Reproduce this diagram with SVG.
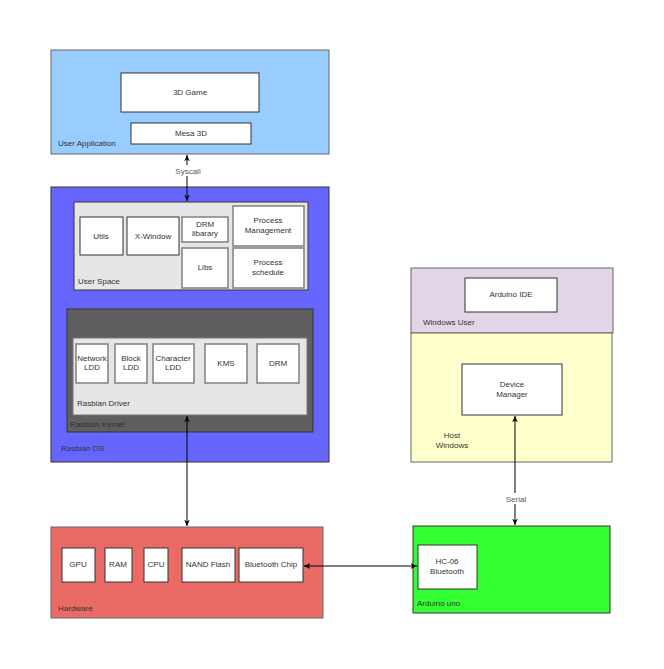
<svg xmlns="http://www.w3.org/2000/svg" width="664" height="669" viewBox="0 0 664 669">
<defs>
<marker id="ah" viewBox="0 0 10 10" refX="9" refY="5" markerWidth="7" markerHeight="7" orient="auto-start-reverse" markerUnits="userSpaceOnUse">
<path d="M0,1 L9,5 L0,9 L2.5,5 Z" fill="#000"/>
</marker>
<style>
text{font-family:"Liberation Sans",Arial,sans-serif;font-size:8px;fill:#333}
.c{text-anchor:middle}
.box{fill:#fff;stroke:#333;stroke-width:1}
.gbox{fill:#fff;stroke:#888;stroke-width:1.6}
.edge{stroke:#000;stroke-width:1;fill:none;marker-start:url(#ah);marker-end:url(#ah)}
.lbl{fill:#555}
</style>
</defs>
<rect width="664" height="669" fill="#fff"/>

<g id="user-application">
<rect x="51" y="50" width="278" height="104" fill="#99ccff" stroke="#666"/>
<text x="58" y="146">User Application</text>
</g>
<g id="game-3d"><rect class="box" x="121" y="73" width="138" height="39"/><text class="c" x="190" y="95">3D Game</text></g>
<g id="mesa-3d"><rect class="box" x="131" y="123" width="120" height="21"/><text class="c" x="191" y="136">Mesa 3D</text></g>

<g id="rasbian-os">
<rect x="51" y="187" width="278" height="275" fill="#6666ff" stroke="#333"/>
<text x="61" y="451">Rasbian OS</text>
</g>
<g id="user-space">
<rect x="74" y="202" width="234" height="88" fill="#e6e6e6" stroke="#333"/>
<text x="78" y="284">User Space</text>
</g>
<g id="utils"><rect class="box" x="80" y="217" width="43" height="38"/><text class="c" x="101" y="239">Utils</text></g>
<g id="x-window"><rect class="box" x="127" y="217" width="52" height="38"/><text class="c" x="153" y="239">X-Window</text></g>
<g id="drm-library"><rect class="gbox" x="182" y="217" width="46" height="25"/><text class="c" x="205" y="227">DRM</text><text class="c" x="205" y="236">libarary</text></g>
<g id="libs"><rect class="gbox" x="182" y="248" width="46" height="40"/><text class="c" x="205" y="270">Libs</text></g>
<g id="process-management"><rect class="gbox" x="233" y="206" width="71" height="40"/><text class="c" x="268" y="223">Process</text><text class="c" x="268" y="233">Management</text></g>
<g id="process-schedule"><rect class="gbox" x="233" y="248" width="71" height="40"/><text class="c" x="268" y="265">Process</text><text class="c" x="268" y="275">schedule</text></g>

<g id="rasbian-kernel">
<rect x="67" y="309" width="246" height="123" fill="#5f5f5f" stroke="#333"/>
<text x="70" y="427">Rasbian Kernel</text>
</g>
<g id="rasbian-driver">
<rect x="73" y="338" width="234" height="77" fill="#e6e6e6" stroke="#777"/>
<text x="77" y="406">Rasbian Driver</text>
</g>
<g id="network-ldd"><rect class="gbox" x="76" y="344" width="32" height="39"/><text class="c" x="92" y="361">Network</text><text class="c" x="92" y="370">LDD</text></g>
<g id="block-ldd"><rect class="gbox" x="115" y="344" width="32" height="39"/><text class="c" x="131" y="361">Block</text><text class="c" x="131" y="370">LDD</text></g>
<g id="character-ldd"><rect class="gbox" x="153" y="344" width="41" height="39"/><text class="c" x="173" y="361">Character</text><text class="c" x="173" y="370">LDD</text></g>
<g id="kms"><rect class="gbox" x="205" y="344" width="42" height="39"/><text class="c" x="226" y="366">KMS</text></g>
<g id="drm"><rect class="gbox" x="257" y="344" width="42" height="39"/><text class="c" x="278" y="366">DRM</text></g>

<g id="hardware">
<rect x="51" y="527" width="272" height="91" fill="#ea6b66" stroke="#666"/>
<text x="58" y="611">Hardware</text>
</g>
<g id="gpu"><rect class="box" x="62" y="548" width="33" height="34"/><text class="c" x="78" y="567">GPU</text></g>
<g id="ram"><rect class="box" x="105" y="548" width="27" height="34"/><text class="c" x="118" y="567">RAM</text></g>
<g id="cpu"><rect class="box" x="144" y="548" width="24" height="34"/><text class="c" x="156" y="567">CPU</text></g>
<g id="nand-flash"><rect class="box" x="182" y="548" width="53" height="34"/><text class="c" x="208" y="567">NAND Flash</text></g>
<g id="bluetooth-chip"><rect class="box" x="239" y="548" width="64" height="34"/><text class="c" x="271" y="567">Bluetooth Chip</text></g>

<g id="windows-user">
<rect x="411" y="268" width="202" height="65" fill="#e1d5e7" stroke="#666"/>
<text x="423" y="325">Windows User</text>
</g>
<g id="arduino-ide"><rect class="box" x="465" y="278" width="92" height="34"/><text class="c" x="511" y="297">Arduino IDE</text></g>
<g id="host-windows">
<rect x="411" y="333" width="201" height="129" fill="#ffffcc" stroke="#666"/>
<text class="c" x="452" y="438">Host</text><text class="c" x="452" y="448">Windows</text>
</g>
<g id="device-manager"><rect class="box" x="462" y="364" width="100" height="51"/><text class="c" x="512" y="387">Device</text><text class="c" x="512" y="397">Manager</text></g>

<g id="arduino-uno">
<rect x="413" y="526" width="197" height="87" fill="#33ff33" stroke="#333"/>
<text x="417" y="606">Arduino uno</text>
</g>
<g id="hc-06"><rect class="box" x="418" y="545" width="59" height="44"/><text class="c" x="447" y="564">HC-06</text><text class="c" x="447" y="574">Bluetooth</text></g>

<g id="connectors">
<line class="edge" x1="187" y1="155" x2="187" y2="201"/>
<rect x="173" y="165" width="30" height="11" fill="#fff"/>
<text class="c lbl" x="188" y="174">Syscall</text>
<line class="edge" x1="187" y1="416" x2="187" y2="526"/>
<line class="edge" x1="515" y1="416" x2="515" y2="525"/>
<rect x="503" y="493" width="26" height="11" fill="#fff"/>
<text class="c lbl" x="516" y="502">Serial</text>
<line class="edge" x1="304" y1="566" x2="417" y2="566"/>
</g>
</svg>
